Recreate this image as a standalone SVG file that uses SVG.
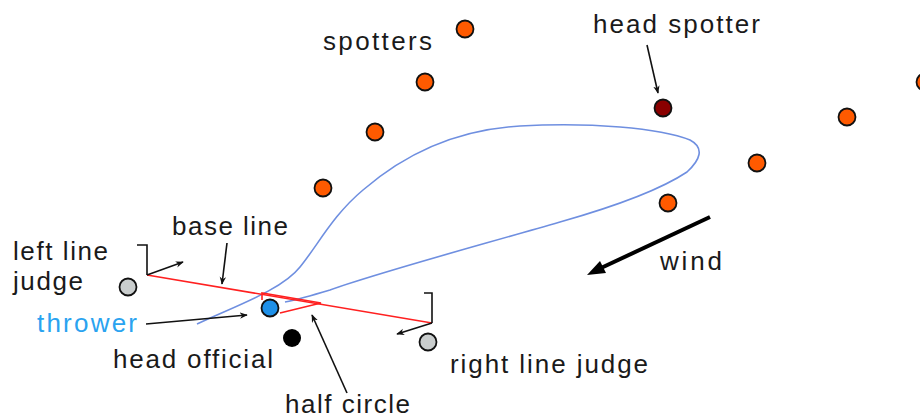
<svg xmlns="http://www.w3.org/2000/svg" width="920" height="419" viewBox="0 0 920 419">
<defs>
<style>
.t{font-family:"Liberation Sans",Arial,sans-serif;font-size:26px;fill:#1a1a1a}
.blue{fill:#2aa3f0}
.sp{fill:#ff5a00;stroke:#111;stroke-width:1.8}
.ptr{stroke:#111;stroke-width:1.6;fill:none}
.red{stroke:#ff2020;stroke-width:1.6;fill:none}
.path{stroke:#6f8fe0;stroke-width:1.6;fill:none}
</style>
<marker id="ah" viewBox="0 0 10 10" refX="9" refY="5" markerWidth="8" markerHeight="8" markerUnits="userSpaceOnUse" orient="auto">
<path d="M0,1 L10,5 L0,9 L3,5 Z" fill="#111"/>
</marker>
</defs>
<rect width="920" height="419" fill="#fff"/>
<g id="field">
<path class="path" d="M197,324 C235,306 282,290 300,267 C318,245 333,215 363,190 C400,158 450,130 520,126 C590,122 660,128 690,140 C705,148 700,160 687,172 C660,190 620,205 560,222 C470,248 380,272 330,290 C310,296 295,300 285,302"/>
<line class="red" x1="147" y1="275" x2="432" y2="323"/>
<path class="red" d="M262,300 L262,293 L321,303 L280,313"/>
</g>
<g id="connectors">
<path class="ptr" d="M137,245 L147,245 L147,275"/>
<line class="ptr" x1="147" y1="275" x2="183" y2="262" marker-end="url(#ah)"/>
<path class="ptr" d="M424,293 L432,293 L432,323"/>
<line class="ptr" x1="432" y1="323" x2="397" y2="334" marker-end="url(#ah)"/>
<line class="ptr" x1="227" y1="243" x2="222" y2="284" marker-end="url(#ah)"/>
<line class="ptr" x1="146" y1="324" x2="247" y2="315" marker-end="url(#ah)"/>
<line class="ptr" x1="347" y1="393" x2="312" y2="315" marker-end="url(#ah)"/>
<line class="ptr" x1="647" y1="45" x2="658" y2="93" marker-end="url(#ah)"/>
<g id="wind-arrow">
<line x1="710" y1="217" x2="601" y2="268" stroke="#000" stroke-width="4"/>
<polygon points="587,275 606,273 600,261" fill="#000"/>
</g>
</g>
<g id="spotters">
<circle class="sp" cx="465" cy="29" r="8.5"/>
<circle class="sp" cx="425" cy="82" r="8.5"/>
<circle class="sp" cx="375" cy="132" r="8.5"/>
<circle class="sp" cx="323" cy="188" r="8.5"/>
<circle class="sp" cx="668" cy="203" r="8.5"/>
<circle class="sp" cx="757" cy="163" r="8.5"/>
<circle class="sp" cx="847" cy="117" r="8.5"/>
<circle class="sp" cx="925" cy="82" r="8.5"/>
</g>
<g id="head-spotter"><circle cx="663" cy="108" r="8.5" fill="#8a0000" stroke="#111" stroke-width="1.8"/></g>
<g id="left-line-judge"><circle cx="128" cy="287" r="8.5" fill="#c9cdcd" stroke="#111" stroke-width="1.8"/></g>
<g id="right-line-judge"><circle cx="428" cy="342" r="8.5" fill="#c9cdcd" stroke="#111" stroke-width="1.8"/></g>
<g id="thrower"><circle cx="270" cy="308" r="8.5" fill="#1e90e8" stroke="#111" stroke-width="1.8"/></g>
<g id="head-official"><circle cx="292" cy="338" r="9" fill="#000"/></g>
<g id="labels">
<text class="t" x="323" y="50" textLength="109" lengthAdjust="spacing">spotters</text>
<text class="t" x="593" y="33" textLength="167" lengthAdjust="spacing">head spotter</text>
<text class="t" x="660" y="270" textLength="62" lengthAdjust="spacing">wind</text>
<text class="t" x="172" y="235" textLength="116" lengthAdjust="spacing">base line</text>
<text class="t" x="13" y="260" textLength="95" lengthAdjust="spacing">left line</text>
<text class="t" x="13" y="290" textLength="70" lengthAdjust="spacing">judge</text>
<text class="t blue" x="37" y="332" textLength="100" lengthAdjust="spacing">thrower</text>
<text class="t" x="113" y="368" textLength="160" lengthAdjust="spacing">head official</text>
<text class="t" x="450" y="373" textLength="198" lengthAdjust="spacing">right line judge</text>
<text class="t" x="285" y="413" textLength="125" lengthAdjust="spacing">half circle</text>
</g>
</svg>
